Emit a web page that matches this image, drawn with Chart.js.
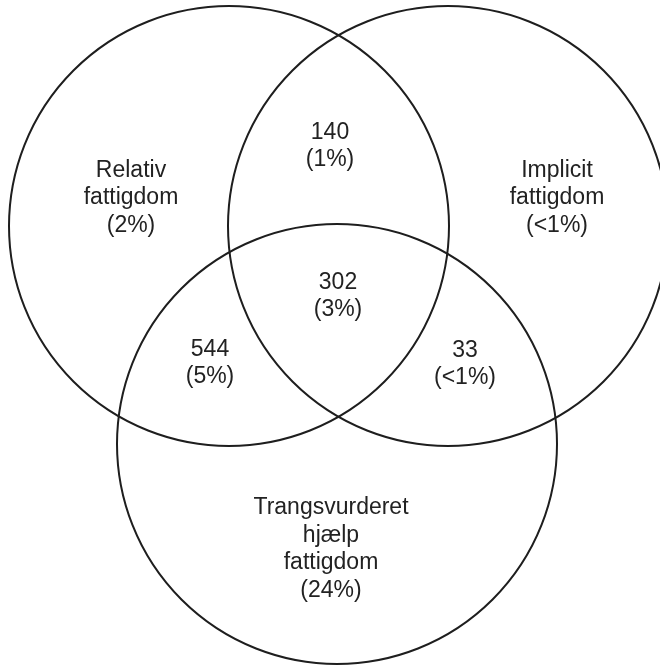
<!DOCTYPE html>
<html>
<head>
<meta charset="utf-8">
<script src="https://cdn.jsdelivr.net/npm/chart.js@4.4.1/dist/chart.umd.min.js"></script>
<style>
    html, body { margin: 0; padding: 0; background: #fff; }
    #wrap { width: 660px; height: 666px; position: relative; }
</style>
</head>
<body>
<div id="wrap"><canvas id="venn"></canvas></div>
<script>
// three sets: centre and radius in page units
const circleX = [229, 448, 337];
const circleY = [226, 226, 444];
const circleR = [220, 220, 220];

// region labels (the three sets first, then the overlaps)
const regionLabels = ['Relativ\nfattigdom', 'Implicit\nfattigdom', 'Trangsvurderet\nhjælp\nfattigdom', '140', '302', '544', '33'];
const regionShares = ['2%', '<1%', '24%', '1%', '3%', '5%', '<1%'];
const regionX = [131, 557, 331, 330, 338, 210, 465];
const regionY = [198, 198, 549, 146, 296, 363, 364];

const lineHeight = 27.5;

const textPlugin = {
    id: 'regionText',
    afterDatasetsDraw: function (chart) {
        const ctx = chart.ctx;
        const meta = chart.getDatasetMeta(1);
        ctx.save();
        ctx.fillStyle = '#222';
        ctx.font = '23px "Liberation Sans", Arial, sans-serif';
        ctx.textAlign = 'center';
        ctx.textBaseline = 'middle';
        meta.data.forEach((pt, i) => {
            const lines = regionLabels[i].split('\n');
            lines.push('(' + regionShares[i] + ')');
            const top = pt.y - (lines.length - 1) * lineHeight / 2;
            lines.forEach((l, j) => {
                ctx.fillText(l, pt.x, top + j * lineHeight);
            });
        });
        ctx.restore();
    }
};

const circles = [];
for (let i = 0; i < circleX.length; i++) {
    circles.push({ x: circleX[i], y: circleY[i], r: circleR[i] });
}
const labelPoints = [];
for (let i = 0; i < regionX.length; i++) {
    labelPoints.push({ x: regionX[i], y: regionY[i] });
}

new Chart(document.getElementById('venn').getContext('2d'), {
    type: 'bubble',
    data: {
        datasets: [{
            data: circles,
            backgroundColor: 'rgba(0,0,0,0)',
            borderColor: '#1e1e1e',
            borderWidth: 2,
            clip: false
        }, {
            type: 'scatter',
            data: labelPoints,
            pointRadius: 0,
            clip: false
        }]
    },
    options: {
        responsive: true,
        maintainAspectRatio: false,
        animation: false,
        events: [],
        layout: { padding: 0, autoPadding: false },
        plugins: {
            legend: { display: false },
            tooltip: { enabled: false }
        },
        scales: {
            x: { type: 'linear', min: 0, max: 660, display: false },
            y: { type: 'linear', min: 0, max: 666, reverse: true, display: false }
        }
    },
    plugins: [textPlugin]
});
</script>
</body>
</html>
